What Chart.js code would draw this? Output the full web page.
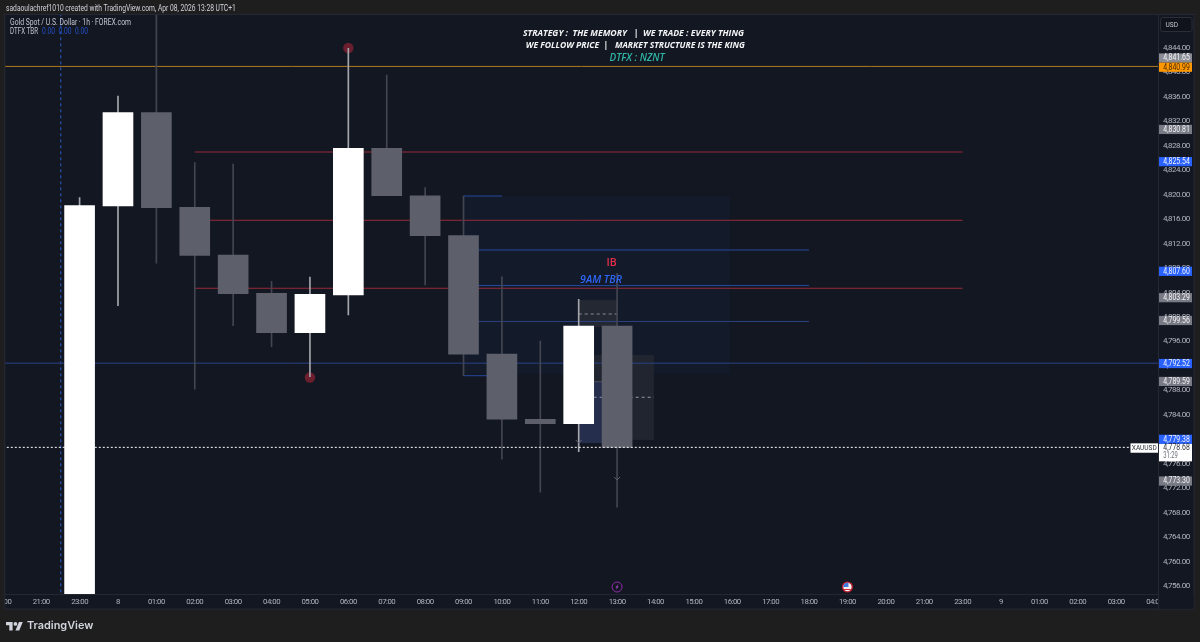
<!DOCTYPE html>
<html><head><meta charset="utf-8">
<style>
html,body{margin:0;padding:0;background:#1e1e1e;width:1200px;height:642px;overflow:hidden}
#wrap{position:absolute;left:0;top:0;width:1200px;height:642px}
.h{position:absolute;font-family:Roboto,sans-serif;white-space:nowrap}
#hdr{left:6px;top:2px;font-size:8.4px;line-height:12px;color:#d1d4dc;transform:scaleX(.8);transform-origin:left center}
#brand{left:27px;top:616px;font-family:Inter,sans-serif;font-weight:600;font-size:10.9px;line-height:18px;color:#d1d4dc}
#logo{position:absolute;left:6px;top:619.5px}
</style>
</head><body>
<div id="wrap"><canvas id="c" width="1200" height="642"></canvas></div>
<div class="h" id="hdr">sadaoulachref1010 created with TradingView.com, Apr 08, 2026 13:28 UTC+1</div>
<svg id="logo" width="17" height="13.5" viewBox="0 0 36 28"><path fill="#d1d4dc" d="M14 22H7V11H0V4h14v18zM28 22h-8l7.5-18h8L28 22z"/><circle fill="#d1d4dc" cx="20" cy="8" r="4"/></svg>
<div class="h" id="brand">TradingView</div>
<script src="https://cdn.jsdelivr.net/npm/chart.js@4/dist/chart.umd.min.js"></script>
<script>
const xLabels=['20:00','21:00','23:00','8','01:00','02:00','03:00','04:00','05:00','06:00','07:00','08:00','09:00','10:00','11:00','12:00','13:00','14:00','15:00','16:00','17:00','18:00','19:00','20:00','21:00','23:00','9','01:00','02:00','03:00','04:00'];
const yTicks=[4756,4760,4764,4768,4772,4776,4780,4784,4788,4792,4796,4800,4804,4808,4812,4816,4820,4824,4828,4832,4836,4840,4844];
const candleIdx=[2,3,4,5,6,7,8,9,10,11,12,13,14,15,16];
const opens =[4752.00,4818.16,4833.42,4817.95,4810.14,4803.88,4797.44,4803.60,4827.60,4819.84,4813.30,4793.95,4783.27,4782.55,4798.53];
const closes=[4818.21,4833.42,4817.88,4810.09,4803.81,4797.44,4803.72,4827.60,4819.84,4813.30,4793.90,4783.27,4782.55,4798.53,4778.68];
const highs =[4819.52,4836.15,4852.00,4825.24,4825.03,4805.84,4806.55,4843.95,4839.58,4821.15,4819.79,4806.59,4796.08,4802.90,4807.15];
const lows  =[4752.00,4801.85,4808.79,4788.18,4798.58,4795.15,4790.24,4800.33,4819.84,4805.24,4790.40,4776.73,4771.33,4777.97,4768.88];
const orangePrice=4840.99, bluePrice=4792.45, lastPrice=4778.68;
const redPrices=[4826.99,4815.82,4804.70];
const bluePrices=[4810.96,4805.16,4799.27];
const tbrTop=4819.79, tbrLow=4790.40;
const dashHigh=4800.49, dashLow=4786.87;
const circles=[{x:9,y:4844.00},{x:8,y:4790.10}];
const chevrons=[{x:15,y:4779.56},{x:16,y:4773.51}];
const sessionX=1.51;
const boxes=[
 {x0:11.99,x1:18.94,p0:4819.79,p1:4790.68,c:'#131a2a'},
 {x0:15,x1:16,p0:4802.78,p1:4798.37,c:'#232833'},
 {x0:15.39,x1:16.96,p0:4793.79,p1:4779.89,c:'#21252f'},
 {x0:15,x1:15.62,p0:4789.42,p1:4779.39,c:'#252f4d'}
];
const tagValues=[
 {p:4841.65,c:'#8a8d96'},{p:4840.99,c:'#ff9800',t:'#4a2c00',pin:1},{p:4830.81,c:'#787b86'},
 {p:4825.54,c:'#2962ff'},{p:4807.60,c:'#2962ff'},{p:4803.29,c:'#787b86'},{p:4799.56,c:'#787b86'},
 {p:4792.52,c:'#2962ff'},{p:4789.59,c:'#787b86'},{p:4779.38,c:'#2962ff'},{p:4773.30,c:'#787b86'}
];
const events=[{x:16,k:'bolt'},{x:22,k:'flag'}];

const FONT='Roboto,sans-serif';
const TXT='"Open Sans",sans-serif';
const fmt=v=>v.toLocaleString('en-US',{minimumFractionDigits:2,maximumFractionDigits:2});
const hline=(x0,x1,y,color,extra)=>Object.assign({type:'line',data:[{x:x0,y},{x:x1,y}],borderColor:color,borderWidth:1,pointRadius:0,order:5},extra||{});
const up=candleIdx.map((_,i)=>closes[i]>=opens[i]);
const datasets=[
 hline(0,31,orangePrice,'#b07a20'),
 hline(0,31,bluePrice,'#2a4288'),
 ...redPrices.map(p=>hline(5,25,p,'#962a3a')),
 ...bluePrices.map((p,i)=>hline(12,21,p,i==2?'#2c4280':'#26499e')),
 hline(12,13,tbrTop,'#26499e'),
 hline(12,12.62,tbrLow,'#26499e'),
 hline(15,16,dashHigh,'#8a8d96',{borderDash:[3,3]}),
 hline(15.39,16.96,dashLow,'#9598a1',{borderDash:[3,3]}),
 {type:'line',data:[{x:sessionX,y:4700},{x:sessionX,y:4900}],borderColor:'#2a5bc4',borderWidth:1,borderDash:[3,3],pointRadius:0,order:5},
 {type:'scatter',data:circles,backgroundColor:'#6b1f2e',pointRadius:5.2,pointHoverRadius:5.2,order:4,borderWidth:0},
 {type:'bar',data:candleIdx.map((x,i)=>({x,y:[lows[i],highs[i]]})),backgroundColor:up.map(u=>u?'#a4a6ac':'#434651'),barThickness:1,grouped:false,order:3,borderWidth:0},
 {type:'bar',data:candleIdx.map((x,i)=>({x,y:[opens[i],closes[i]]})),backgroundColor:up.map(u=>u?'#ffffff':'#5d606b'),barThickness:30,grouped:false,order:2,borderWidth:0},
 hline(0,30.1,lastPrice,'#ffffff',{borderDash:[2,2],order:1})
];
const rr=(g,x,y,w,h,r)=>{g.beginPath();g.roundRect(x,y,w,h,r);};
const overlay={
 id:'overlay',
 beforeDraw(ch){
  const g=ch.ctx,a=ch.chartArea;
  g.save();
  g.fillStyle='#131722';g.fillRect(a.left,14,a.right+36-a.left,595);
  g.strokeStyle='#252832';g.lineWidth=1;g.strokeRect(a.left-.5,14.5,a.right+36.5-a.left,594.5);
  g.restore();
  g.letterSpacing='-0.5px';
 },
 beforeDatasetsDraw(ch){
  const g=ch.ctx,X=ch.scales.x,Y=ch.scales.y;
  g.save();
  boxes.forEach(b=>{const x=X.getPixelForValue(b.x0),w=X.getPixelForValue(b.x1)-x,y=Y.getPixelForValue(b.p0),h=Y.getPixelForValue(b.p1)-y;g.fillStyle=b.c;g.fillRect(x,y,w,h);});
  const bx=boxes[3];
  g.strokeStyle='#4a4e59';g.beginPath();g.moveTo(X.getPixelForValue(bx.x0),Y.getPixelForValue(bx.p0));g.lineTo(X.getPixelForValue(bx.x1),Y.getPixelForValue(bx.p0));g.stroke();
  g.restore();
 },
 afterDatasetsDraw(ch){
  const g=ch.ctx,X=ch.scales.x,Y=ch.scales.y;
  g.save();
  g.letterSpacing='0px';
  g.textBaseline='middle';
  g.strokeStyle='#5d606b';g.lineWidth=1;
  chevrons.forEach(c=>{const x=X.getPixelForValue(c.x),y=Y.getPixelForValue(c.y);g.beginPath();g.moveTo(x-3,y-2);g.lineTo(x,y+1);g.lineTo(x+3,y-2);g.stroke();});
  g.textAlign='left';g.font='8.4px '+FONT;g.fillStyle='#c4c7cf';
  g.fillText('Gold Spot / U.S. Dollar · 1h · FOREX.com',10,23,121);
  g.fillText('DTFX TBR',10,32,28);
  g.fillStyle='#2450c8';
  ['0.00','0.00','0.00'].forEach((t,i)=>g.fillText(t,42+i*16.5,32,13));
  g.textAlign='center';g.fillStyle='#f4f5f7';g.font='italic 700 8.8px '+TXT;
  g.fillText('STRATEGY :  THE MEMORY   |  WE TRADE : EVERY THING',633.5,33,221);
  g.fillText('WE FOLLOW PRICE  |   MARKET STRUCTURE IS THE KING',635.3,45,219);
  g.fillStyle='#2fb5a6';g.font='italic 600 10.2px '+TXT;
  g.fillText('DTFX : NZNT',637,58.5,55);
  g.fillStyle='#ea2f4a';g.font='600 10.5px '+TXT;
  g.fillText('IB',611.5,263.5);
  g.fillStyle='#2e66f5';g.font='italic 600 10.5px '+TXT;
  g.fillText('9AM TBR',601,280,43);
  events.forEach(e=>{
   const x=X.getPixelForValue(e.x),y=587;
   g.save();
   if(e.k==='bolt'){
    g.strokeStyle='#8e2aa8';g.lineWidth=1;g.beginPath();g.arc(x,y,5,0,Math.PI*2);g.stroke();
    g.fillStyle='#b04ad0';g.beginPath();g.moveTo(x+1.2,y-3);g.lineTo(x-1.6,y+.6);g.lineTo(x-.1,y+.6);g.lineTo(x-1.2,y+3);g.lineTo(x+1.6,y-.6);g.lineTo(x+.1,y-.6);g.closePath();g.fill();
   }else{
    g.beginPath();g.arc(x,y,5.6,0,Math.PI*2);g.fillStyle='#b71c2c';g.fill();
    g.beginPath();g.arc(x,y,4.2,0,Math.PI*2);g.clip();
    g.fillStyle='#f2f2f2';g.fillRect(x-5,y-5,10,10);
    g.fillStyle='#3f78e0';g.fillRect(x-5,y-5,6,5);
    g.fillStyle='#d9243f';g.fillRect(x-5,y+2,10,1);
   }
   g.restore();
  });
  g.restore();
 },
 afterDraw(ch){
  const g=ch.ctx,Y=ch.scales.y,a=ch.chartArea;
  g.save();
  g.letterSpacing='0px';
  g.fillStyle='#1e1e1e';g.fillRect(0,595,a.left-.5,14);
  g.fillStyle='#131722';g.fillRect(a.right+.5,595,35,13.5);
  g.strokeStyle='#252832';g.lineWidth=1;g.beginPath();g.moveTo(a.right+.5,14);g.lineTo(a.right+.5,609);g.stroke();
  g.beginPath();g.moveTo(a.left-.5,14);g.lineTo(a.left-.5,609);g.stroke();
  g.fillStyle='#10131b';rr(g,1160.5,17.5,31.5,14,2);g.fill();g.strokeStyle='#2a2e39';g.stroke();
  g.fillStyle='#c4c7cf';g.font='8px '+FONT;g.textAlign='left';g.textBaseline='middle';g.fillText('USD',1165.5,24.5,12.5);
  const lx=a.right+1,w=33,h=9.2;
  const lastY=Y.getPixelForValue(lastPrice)+1;
  const lastTop=lastY-4.4;
  const pos=tagValues.map(t=>({t,y:Y.getPixelForValue(t.p)+.8}));
  const pin=pos.find(q=>q.t.pin);
  pos.forEach(o=>{
   if(o.t.pin) return;
   if(Math.abs(o.y-pin.y)<h && o.y<pin.y) o.y=pin.y-h;
   if(o.y+h/2>lastTop && o.y<lastY) o.y=lastTop-h/2;
  });
  const tf='8.4px '+FONT,tw=26.5;
  pos.forEach(o=>{
   g.fillStyle=o.t.c;g.fillRect(lx,o.y-h/2,w,h);
   g.fillStyle=o.t.t||'#f2f3f5';g.font=tf;g.fillText(fmt(o.t.p),a.right+5.3,o.y+.2,tw);
  });
  g.fillStyle='#ffffff';g.fillRect(lx,lastTop,w,17.4);
  g.fillStyle='#30333c';g.font=tf;g.fillText(fmt(lastPrice),a.right+5.3,lastY,tw);
  g.fillStyle='#6a6d78';g.fillText('31:29',a.right+5.3,lastY+8,14.5);
  g.fillStyle='#ffffff';g.fillRect(a.right-27.5,lastY-5,27.5,9.4);
  g.fillStyle='#30333c';g.font='8px '+FONT;g.textAlign='center';g.fillText('XAUUSD',a.right-13.7,lastY-.2,25);
  g.restore();
 }
};
new Chart(document.getElementById('c'),{
 type:'bar',
 data:{datasets},
 plugins:[overlay],
 options:{
  responsive:false,animation:false,devicePixelRatio:1,
  layout:{padding:{left:5,top:15,right:6,bottom:33}},
  plugins:{legend:{display:false},tooltip:{enabled:false},title:{display:false}},
  interaction:{mode:null},
  scales:{
   x:{type:'linear',min:0.0625,max:30.089,offset:false,bounds:'data',
    grid:{display:false,drawTicks:false},border:{display:true,color:'#252832'},
    afterBuildTicks(s){s.ticks=xLabels.map((_,i)=>({value:i}));},
    afterFit(s){s.height=15;s.paddingLeft=0;s.paddingRight=0;},
    ticks:{autoSkip:false,maxRotation:0,minRotation:0,padding:3,color:'#b2b5be',font:{family:FONT,size:7.8},callback:v=>xLabels[v]}
   },
   y:{type:'linear',position:'right',min:4754.69,max:4849.40,bounds:'data',
    grid:{display:false,drawTicks:false},border:{display:true,color:'#252832'},
    afterBuildTicks(s){s.ticks=yTicks.map(v=>({value:v}));},
    afterFit(s){s.width=36;s.paddingTop=0;s.paddingBottom=0;},
    ticks:{padding:5,color:'#b2b5be',font:{family:FONT,size:8},callback:v=>fmt(v)}
   }
  }
 }
});
</script>
</body></html>
